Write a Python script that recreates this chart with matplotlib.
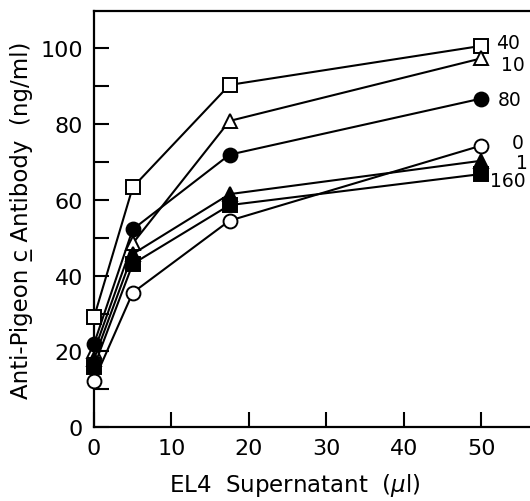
import matplotlib
matplotlib.use("Agg")
import matplotlib.pyplot as plt

plt.rcParams['font.family'] = ['DejaVu Sans']
plt.rcParams['mathtext.fontset'] = 'custom'
plt.rcParams['mathtext.rm'] = 'DejaVu Sans'
plt.rcParams['mathtext.it'] = 'DejaVu Sans:italic'

x = [0, 5, 17.5, 50]
series_labels = ["40", "10", "80", "0", "1", "160"]
y_40 = [29, 63.3, 90.3, 100.6]
y_10 = [20, 48.5, 80.8, 97.3]
y_80 = [22, 52.2, 71.9, 86.7]
y_0 = [12.3, 35.5, 54.5, 74.3]
y_1 = [18, 45.7, 61.5, 70.3]
y_160 = [16, 43.1, 58.6, 66.8]
series_values = [y_40, y_10, y_80, y_0, y_1, y_160]

markers = ['s', '^', 'o', 'o', '^', 's']
faces = ['white', 'white', 'black', 'white', 'black', 'black']
label_offsets = [(11, 2.5), (14, -4.5), (12, -1), (22, 2), (25, -1), (6, -5)]

fig = plt.figure(figsize=(5.30, 5.02), dpi=100)
ax = fig.add_axes([94/530, (502-428.3)/502, (530-94)/530, (428.3-12)/502])

for ys, m, fc in zip(series_values, markers, faces):
    ax.plot(x, ys, color='black', lw=1.5, marker=m, markersize=10,
            markerfacecolor=fc, markeredgecolor='black', markeredgewidth=1.4,
            clip_on=False, zorder=3)

for ys, lab, off in zip(series_values, series_labels, label_offsets):
    ax.annotate(lab, xy=(x[-1], ys[-1]), xytext=off, textcoords='offset points',
                ha='left', va='center', fontsize=13.5, annotation_clip=False)

ax.set_xlim(0, 56.3)
ax.set_ylim(0, 109.8)
ax.set_xticks([0, 10, 20, 30, 40, 50])
ax.set_yticks([0, 20, 40, 60, 80, 100])
ax.set_yticks([10, 30, 50, 70, 90], minor=True)
ax.tick_params(axis='both', which='both', direction='in', length=11, width=1.5,
               labelsize=16, pad=8)
ax.spines['right'].set_visible(False)
for s in ['left', 'bottom', 'top']:
    ax.spines[s].set_linewidth(1.6)

ax.set_xlabel(r"EL4  Supernatant  ($\mu$l)", fontsize=16.5)
ax.xaxis.set_label_coords((295-94)/436, -0.105)
ax.set_ylabel("Anti-Pigeon c\u0332 Antibody  (ng/ml)", fontsize=16.5)
ax.yaxis.set_label_coords(-(94-33)/436, 0.5)

fig.savefig("out.png", dpi=100)
